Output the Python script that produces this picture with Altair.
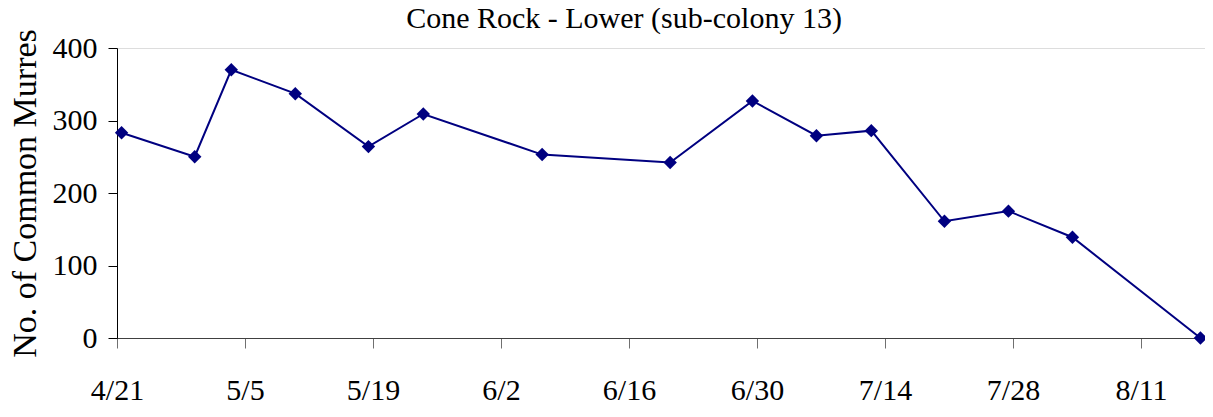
import altair as alt
import pandas as pd

# Survey dates (observed at mid-day on an Excel-style date axis) and counts
dates = ["2007-04-21", "2007-04-29", "2007-05-03", "2007-05-10", "2007-05-18",
         "2007-05-24", "2007-06-06", "2007-06-20", "2007-06-29", "2007-07-06",
         "2007-07-12", "2007-07-20", "2007-07-27", "2007-08-03", "2007-08-17"]
counts = [283, 250, 370, 337, 264, 309, 253, 242, 327, 279, 286, 161, 175, 139, 0]

tick_dates = ["2007-04-21", "2007-05-05", "2007-05-19", "2007-06-02", "2007-06-16",
              "2007-06-30", "2007-07-14", "2007-07-28", "2007-08-11"]
y_ticks = [0, 100, 200, 300, 400]

df = pd.DataFrame({"date": [d + "T12:00:00Z" for d in dates], "count": counts})

FONT = "Liberation Serif"
NAVY = "#000080"

def dt(s):
    y, m, d = (int(v) for v in s.split("-"))
    return alt.DateTime(year=y, month=m, date=d, utc=True)

x_enc = alt.X(
    "date:T",
    scale=alt.Scale(type="utc", domain=[dt("2007-04-21"), dt("2007-08-18")], nice=False),
    axis=alt.Axis(values=[dt(s) for s in tick_dates], format="%-m/%-d", title=None,
                  grid=False, labelFont=FONT, labelFontSize=30, labelColor="black",
                  tickSize=10, tickColor="#707070", domainColor="#404040",
                  labelPadding=27, labelFlush=False, labelOverlap=False),
)
y_enc = alt.Y(
    "count:Q",
    scale=alt.Scale(domain=[0, 400], nice=False),
    axis=alt.Axis(values=y_ticks, title="No. of Common Murres", grid=False,
                  labelFont=FONT, labelFontSize=30, labelColor="black",
                  titleFont=FONT, titleFontSize=34, titleFontWeight="normal",
                  titleColor="black", titleX=-82, titleBaseline="alphabetic",
                  tickSize=9, tickColor="black", domainColor="black",
                  labelPadding=11),
)

base = alt.Chart(df).encode(x=x_enc, y=y_enc)
line = base.mark_line(color=NAVY, strokeWidth=2)
pts = base.mark_point(shape="diamond", filled=True, size=180, color=NAVY, opacity=1)

chart = (line + pts).properties(
    width=1088, height=290,
    title=alt.TitleParams("Cone Rock - Lower (sub-colony 13)", font=FONT, fontSize=30,
                          fontWeight="normal", color="black", anchor="middle",
                          dx=-37, offset=-5),
    autosize=alt.AutoSizeParams(type="none"),
    padding={"left": 109, "top": 40, "right": 0, "bottom": 75},
).configure_view(stroke="#909090", strokeWidth=2).configure(background="white")

chart.save("out.html", embed_options={"renderer": "svg", "actions": False})
